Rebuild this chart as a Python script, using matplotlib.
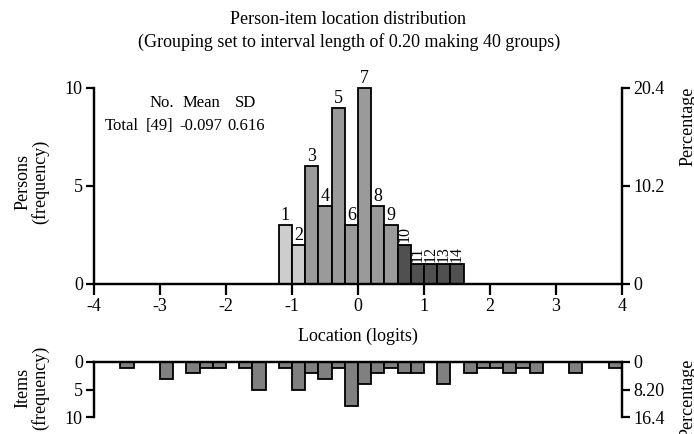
import numpy as np
import matplotlib as mpl
import matplotlib.pyplot as plt

# persons: bin left edges (logits) and counts
person_lefts = [-1.2, -1.0, -0.8, -0.6, -0.4, -0.2, 0.0, 0.2, 0.4, 0.6, 0.8, 1.0, 1.2, 1.4]
person_counts = [3, 2, 6, 4, 9, 3, 10, 4, 3, 2, 1, 1, 1, 1]
person_labels = [str(i) for i in range(1, 15)]

# items: bin left edges and counts
item_lefts = [-3.6, -3.0, -2.6, -2.4, -2.2, -1.8, -1.6, -1.2, -1.0, -0.8, -0.6, -0.4, -0.2,
              0.0, 0.2, 0.4, 0.6, 0.8, 1.2, 1.6, 1.8, 2.0, 2.2, 2.4, 2.6, 3.2, 3.8]
item_counts = [1, 3, 2, 1, 1, 1, 5, 1, 5, 2, 3, 1, 8, 4, 2, 1, 2, 2, 4, 2, 1, 1, 2, 1, 2, 2, 1]

x_ticks = [-4, -3, -2, -1, 0, 1, 2, 3, 4]
pers_pct_ticks = [0, 10.2, 20.4]
pers_pct_labels = ['0', '10.2', '20.4']
item_pct_ticks = [0, 8.20, 16.4]
item_pct_labels = ['0', '8.20', '16.4']

# summary table
stat_head = ['No.', 'Mean', 'SD']
stat_row = ['Total', '[49]', '-0.097', '0.616']

FS = 13
mpl.rcParams['font.family'] = ['Liberation Serif', 'DejaVu Serif']
mpl.rcParams['axes.unicode_minus'] = False
mpl.rcParams['font.size'] = FS

fig = plt.figure(figsize=(6.94, 4.34), dpi=100)
W, H = 694, 434

def frac(x0, y0, x1, y1):
    return [x0 / W, 1 - y1 / H, (x1 - x0) / W, (y1 - y0) / H]

LW = 1.6

def style(ax):
    ax.tick_params(width=LW, length=6, labelsize=FS, pad=2)
    for s in ax.spines.values():
        s.set_linewidth(LW)

# ---- top panel: persons
ax = fig.add_axes(frac(94, 88, 622, 284))
colors = ['#cdcdcd'] * 2 + ['#9a9a9a'] * 7 + ['#505050'] * 5
ax.bar(person_lefts, person_counts, width=0.2, align='edge', color=colors,
       edgecolor='black', linewidth=1.3, clip_on=False, zorder=3)
ax.set_xlim(-4, 4)
ax.set_ylim(0, 10)
ax.set_xticks(x_ticks)
ax.set_xticklabels([str(t) for t in x_ticks])
ax.set_yticks([0, 5, 10])
ax.spines['top'].set_visible(False)
style(ax)
ax.tick_params(axis='x', length=8, pad=2)
ax.spines['bottom'].set_zorder(5)

for i, (l, c, lab) in enumerate(zip(person_lefts, person_counts, person_labels)):
    if i >= 9:
        ax.text(l + 0.1, c + 0.12, lab, ha='center', va='bottom', rotation=90,
                fontsize=11.5)
    else:
        ax.text(l + 0.1, c + 0.05, lab, ha='center', va='bottom')

ax2 = ax.twinx()
ax2.set_ylim(0, 20.4)
ax2.set_yticks(pers_pct_ticks)
ax2.set_yticklabels(pers_pct_labels)
ax2.spines['top'].set_visible(False)
style(ax2)

ax.set_xlabel('Location (logits)', labelpad=9)

# stats table (positions in logits / counts)
for s, x in zip(stat_head, [-2.97, -2.38, -1.71]):
    ax.text(x, 9.23, s, ha='center', va='center', fontsize=12)
for s, x in zip(stat_row, [-3.58, -3.0, -2.38, -1.70]):
    ax.text(x, 8.06, s, ha='center', va='center', fontsize=12)

# ---- bottom panel: items
bx = fig.add_axes(frac(94, 362, 622, 417))
bx.bar(item_lefts, item_counts, width=0.2, align='edge', color='#808080',
       edgecolor='black', linewidth=1.3, zorder=3)
bx.set_xlim(-4, 4)
bx.set_ylim(10, 0)
bx.set_yticks([0, 5, 10])
bx.set_xticks([])
bx.spines['bottom'].set_visible(False)
style(bx)
bx.spines['top'].set_zorder(5)

bx2 = bx.twinx()
bx2.set_ylim(16.4, 0)
bx2.set_yticks(item_pct_ticks)
bx2.set_yticklabels(item_pct_labels)
bx2.spines['bottom'].set_visible(False)
style(bx2)

# figure texts
fig.text(0.501, 1 - 20 / H, 'Person-item location distribution', ha='center', va='center')
fig.text(0.503, 1 - 42 / H, '(Grouping set to interval length of 0.20 making 40 groups)',
         ha='center', va='center')
fig.text(32 / W, 1 - 182 / H, 'Persons\n(frequency)', ha='center', va='center',
         rotation=90, linespacing=1.0)
fig.text(32 / W, 1 - 388 / H, 'Items\n(frequency)', ha='center', va='center',
         rotation=90, linespacing=1.0)
fig.text(688 / W, 1 - 126 / H, 'Percentage', ha='center', va='center', rotation=90)
fig.text(688 / W, 1 - 398 / H, 'Percentage', ha='center', va='center', rotation=90)

fig.savefig('out.png', dpi=100)
